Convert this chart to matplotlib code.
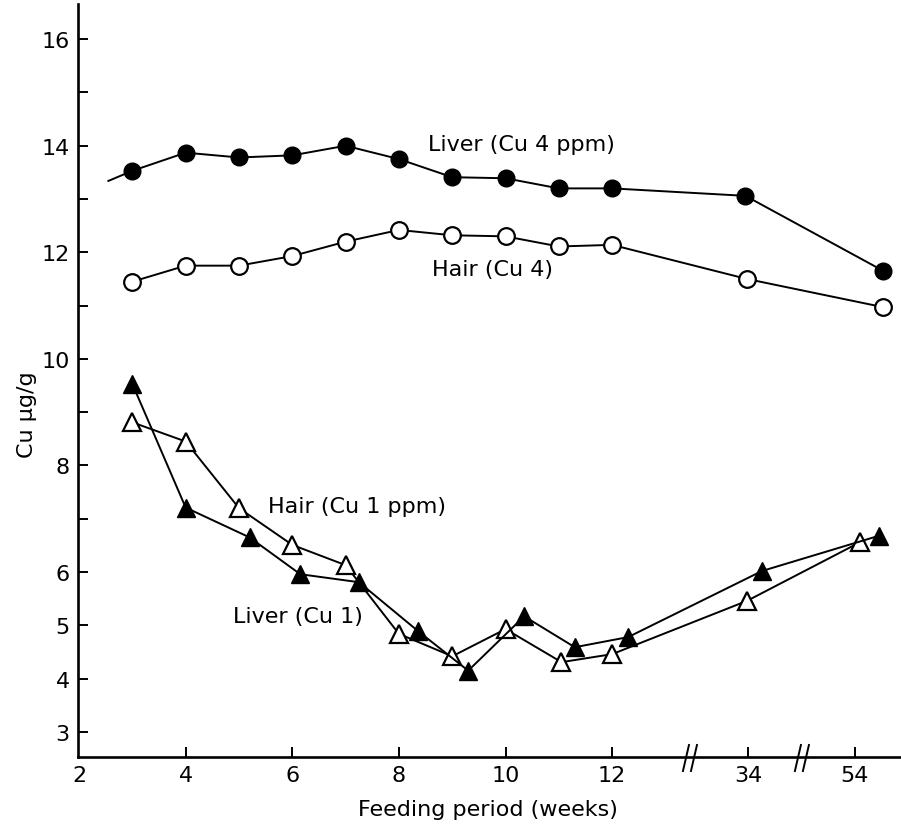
import numpy as np
import matplotlib.pyplot as plt

# feeding period in weeks; the late points sit on the broken part of the axis
liver4_wk = [2.55, 3, 4, 5, 6, 7, 8, 9, 10, 11, 12, 33.5, 59.4]
liver4_cu = [13.34, 13.53, 13.87, 13.78, 13.82, 14.0, 13.75, 13.41, 13.39, 13.2, 13.2, 13.06, 11.65]

hair4_wk = [3, 4, 5, 6, 7, 8, 9, 10, 11, 12, 33.8, 59.4]
hair4_cu = [11.45, 11.75, 11.75, 11.93, 12.2, 12.42, 12.32, 12.3, 12.11, 12.14, 11.5, 10.97]

liver1_wk = [3, 4, 5.2, 6.15, 7.25, 8.35, 9.3, 10.35, 11.3, 12.3, 36.6, 58.5]
liver1_cu = [9.53, 7.21, 6.65, 5.96, 5.81, 4.9, 4.15, 5.17, 4.59, 4.78, 6.02, 6.68]

hair1_wk = [3, 4, 5, 6, 7, 8, 9, 10, 11.05, 12, 33.8, 55]
hair1_cu = [8.81, 8.45, 7.2, 6.51, 6.13, 4.84, 4.42, 4.93, 4.31, 4.46, 5.46, 6.56]

xtick_weeks = [2, 4, 6, 8, 10, 12, 34, 54]
ytick_major = [3, 4, 5, 6, 8, 10, 12, 14, 16]
ytick_minor = [7, 9, 11, 13, 15]
break_at = [13.46, 15.56]   # where the "//" marks go (axis units)


def pos(w):
    # broken axis: weeks 2-12 linear, then 34..54 squeezed 10x
    w = np.asarray(w, dtype=float)
    return np.where(w <= 13, w, 14.55 + (w - 34) * 0.1)


plt.rcParams['font.family'] = 'DejaVu Sans'
fig = plt.figure(figsize=(9.01, 8.28), dpi=100)
ax = fig.add_axes([78 / 901, 70 / 828, 822 / 901, 753 / 828])

lw = 1.4
ax.plot(pos(liver4_wk), liver4_cu, color='black', lw=lw, marker='o', ms=12,
        mfc='black', mec='black', markevery=list(range(1, len(liver4_wk))), zorder=3)
ax.plot(pos(hair4_wk), hair4_cu, color='black', lw=lw, marker='o', ms=12,
        mfc='white', mec='black', mew=1.6, zorder=3)
ax.plot(pos(liver1_wk), liver1_cu, color='black', lw=lw, marker='^', ms=13,
        mfc='black', mec='black', zorder=4)
ax.plot(pos(hair1_wk), hair1_cu, color='black', lw=lw, marker='^', ms=13,
        mfc='white', mec='black', mew=1.6, zorder=3)

ax.text(8.55, 14.03, 'Liver (Cu 4 ppm)', fontsize=16, va='center', ha='left')
ax.text(8.62, 11.68, 'Hair (Cu 4)', fontsize=16, va='center', ha='left')
ax.text(5.55, 7.24, 'Hair (Cu 1 ppm)', fontsize=16, va='center', ha='left')
ax.text(4.89, 5.17, 'Liver (Cu 1)', fontsize=16, va='center', ha='left')

ax.set_xlim(1.98, 17.4)
ax.set_ylim(2.53, 16.66)

ax.set_xticks(pos(xtick_weeks))
ax.set_xticklabels([str(w) for w in xtick_weeks])
ax.set_yticks(ytick_major)
ax.set_yticks(ytick_minor, minor=True)
ax.tick_params(axis='both', which='both', direction='in', length=7.5, width=1.4,
               labelsize=16, pad=6)
ax.xaxis.get_major_ticks()[0].tick1line.set_visible(False)

for s in ['top', 'right']:
    ax.spines[s].set_visible(False)
for s in ['left', 'bottom']:
    ax.spines[s].set_linewidth(1.9)

# axis break marks
tr = ax.get_xaxis_transform()
px = 1 / 53.3
py = 1 / 753
for b in break_at:
    for off in (-4, 4):
        ax.plot([b + (off - 3) * px, b + (off + 3) * px], [-14 * py, 12 * py],
                color='black', lw=1.4, transform=tr, clip_on=False)

fig.text(488 / 901, 1 - 810 / 828, 'Feeding period (weeks)', fontsize=16,
         ha='center', va='center')
fig.text(27 / 901, 1 - 415 / 828, 'Cu µg/g', fontsize=16, rotation=90,
         ha='center', va='center')

fig.savefig('out.png', dpi=100)
